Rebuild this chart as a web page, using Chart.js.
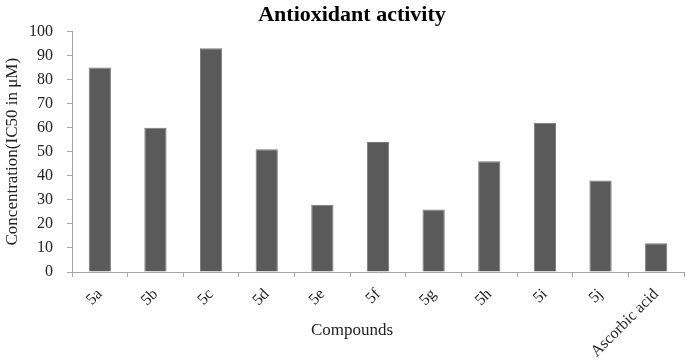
<!DOCTYPE html>
<html lang="en">
<head>
  <meta charset="UTF-8" />
  <title>Antioxidant activity</title>
  <script src="https://cdn.jsdelivr.net/npm/chart.js"></script>
  <style>
    html, body { margin: 0; padding: 0; background: #fff; }
    .chart-container { position: relative; width: 686px; height: 363px; }
  </style>
</head>
<body>
  <div class="chart-container">
    <canvas id="barChart"></canvas>
  </div>

  <script>
    const compounds = ['5a', '5b', '5c', '5d', '5e', '5f', '5g', '5h', '5i', '5j', 'Ascorbic acid'];
    const ic50 = [85, 60, 93, 51, 28, 54, 26, 46, 62, 38, 12];
    const yTicks = [0, 10, 20, 30, 40, 50, 60, 70, 80, 90, 100];

    const serif = "'Liberation Serif', 'Times New Roman', serif";
    const axisGrey = '#a6a6a6';

    const ctx = document.getElementById('barChart').getContext('2d');
    new Chart(ctx, {
      type: 'bar',
      data: {
        labels: compounds,
        datasets: [{
          label: 'IC50',
          data: ic50,
          backgroundColor: '#5a5a5a',
          borderColor: '#7a7a7a',
          borderWidth: 1,
          barPercentage: 0.4,
          categoryPercentage: 1
        }]
      },
      options: {
        responsive: true,
        maintainAspectRatio: false,
        animation: false,
        // left padding shifts the centred title/subtitle like in the original
        layout: { padding: { left: 20, right: 2, top: 0, bottom: 0 } },
        plugins: {
          legend: { display: false },
          tooltip: { enabled: false },
          title: {
            display: true,
            text: 'Antioxidant activity',
            color: '#000',
            font: { family: serif, size: 22, weight: 'bold' },
            padding: { top: 2, bottom: 3 }
          },
          // x axis caption, centred on the whole figure; zero-height box so
          // the rotated tick labels keep the full space below the axis
          subtitle: {
            display: true,
            position: 'bottom',
            text: 'Compounds',
            color: '#222',
            font: { family: serif, size: 17 },
            padding: { top: -42.4, bottom: 22 }
          }
        },
        scales: {
          x: {
            afterFit: axis => { axis.height = 91; },
            grid: { drawOnChartArea: false, offset: true, color: axisGrey, tickLength: 5 },
            border: { color: axisGrey },
            ticks: {
              color: '#222',
              font: { family: serif, size: 16 },
              minRotation: 45,
              maxRotation: 45,
              padding: 8
            }
          },
          y: {
            min: 0,
            max: 100,
            afterFit: axis => { axis.width = 52; },
            afterBuildTicks: axis => { axis.ticks = yTicks.map(v => ({ value: v })); },
            grid: { drawOnChartArea: false, color: axisGrey, tickLength: 5 },
            border: { color: axisGrey },
            ticks: {
              color: '#222',
              font: { family: serif, size: 16 },
              padding: 14
            },
            title: {
              display: true,
              text: 'Concentration(IC50 in μM)',
              color: '#222',
              font: { family: serif, size: 17 },
              padding: { top: -18, bottom: 0 }
            }
          }
        }
      }
    });
  </script>
</body>
</html>
